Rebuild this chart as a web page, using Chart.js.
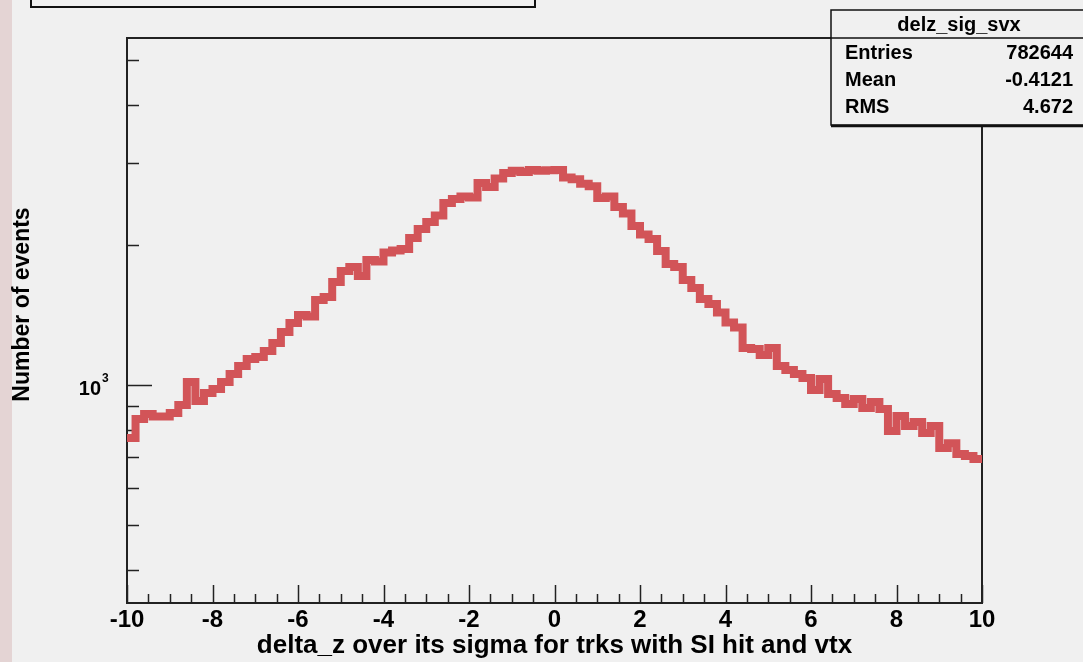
<!DOCTYPE html>
<html>
<head>
<meta charset="utf-8">
<script src="https://cdn.jsdelivr.net/npm/chart.js@4.4.0/dist/chart.umd.min.js"></script>
<style>
  html, body { margin: 0; padding: 0; background: #f0f0f0; }
  #wrap { width: 1083px; height: 662px; }
</style>
</head>
<body>
<div id="wrap"><canvas id="chart" width="1083" height="662"></canvas></div>
<script>
// histogram delz_sig_svx, 100 bins from -10 to 10
const histName = 'delz_sig_svx';
const xMin = -10;
const xMax = 10;
const binWidth = 0.2;
const counts = [
  769, 845, 866, 856, 856, 871, 906, 1015, 924, 961,
  980, 1015, 1056, 1099, 1137, 1149, 1183, 1231, 1300, 1359,
  1414, 1404, 1523, 1546, 1666, 1759, 1794, 1716, 1857, 1843,
  1927, 1947, 1961, 2071, 2165, 2242, 2315, 2463, 2512, 2543,
  2531, 2719, 2666, 2780, 2857, 2886, 2871, 2900, 2886, 2893,
  2900, 2794, 2767, 2706, 2673, 2524, 2543, 2414, 2338, 2198,
  2107, 2061, 1942, 1821, 1794, 1682, 1617, 1531, 1493, 1432,
  1363, 1330, 1201, 1195, 1160, 1201, 1099, 1077, 1056, 1035,
  976, 1030, 956, 938, 910, 933, 892, 919, 888, 796,
  858, 816, 833, 789, 816, 732, 750, 711, 704, 693
];
const yMin = 340;
const yMax = 5570;
const yMajorTicks = [1000];
const yMinorTicks = [400, 500, 600, 700, 800, 900, 2000, 3000, 4000, 5000];
const xMajorStep = 2;
const xMinorStep = 0.5;
const statLabels = ['Entries', 'Mean', 'RMS'];
const statValues = ['782644', '-0.4121', '4.672'];
const xTitle = 'delta_z over its sigma for trks with SI hit and vtx';
const yTitle = 'Number of events';

const FONT = "'Liberation Sans', Arial, sans-serif";
const BG = '#f0f0f0';

// left bin edges, plus the closing edge
let points = counts.map((c, i) => ({ x: xMin + i * binWidth, y: c }));
points.push({ x: xMax, y: counts[counts.length - 1] });

const rootStyle = {
  id: 'rootStyle',
  beforeDraw(chart) {
    const ctx = chart.ctx;
    ctx.save();
    ctx.fillStyle = BG;
    ctx.fillRect(0, 0, chart.width, chart.height);
    ctx.fillStyle = '#e4d4d4';
    ctx.fillRect(0, 0, 12, chart.height);
    // cut-off title box at the top
    ctx.strokeStyle = '#111';
    ctx.lineWidth = 2;
    ctx.strokeRect(31, -20, 504, 27);
    ctx.restore();
  },
  beforeDatasetsDraw(chart) {
    const ctx = chart.ctx;
    const a = chart.chartArea;
    const xs = chart.scales.x;
    const ys = chart.scales.y;
    ctx.save();
    ctx.strokeStyle = '#222';
    ctx.lineWidth = 2;
    ctx.strokeRect(a.left, a.top, a.right - a.left, a.bottom - a.top);

    ctx.lineWidth = 1.5;
    ctx.beginPath();
    yMinorTicks.forEach(v => {
      const y = Math.round(ys.getPixelForValue(v)) + 0.5;
      ctx.moveTo(a.left, y);
      ctx.lineTo(a.left + 12, y);
    });
    yMajorTicks.forEach(v => {
      const y = Math.round(ys.getPixelForValue(v)) + 0.5;
      ctx.moveTo(a.left, y);
      ctx.lineTo(a.left + 25, y);
    });
    for (let t = xMin; t <= xMax + 1e-9; t += xMinorStep) {
      const x = Math.round(xs.getPixelForValue(t)) + 0.5;
      const major = Math.abs(t / xMajorStep - Math.round(t / xMajorStep)) < 1e-6;
      ctx.moveTo(x, a.bottom);
      ctx.lineTo(x, a.bottom - (major ? 18 : 9));
    }
    ctx.stroke();

    // 10^3 label
    ctx.fillStyle = '#000';
    ctx.textBaseline = 'middle';
    ctx.textAlign = 'right';
    yMajorTicks.forEach(v => {
      const y = ys.getPixelForValue(v);
      ctx.font = 'bold 20px ' + FONT;
      ctx.fillText('10', 101, y + 4);
      ctx.font = 'bold 12px ' + FONT;
      ctx.textAlign = 'left';
      ctx.fillText(String(Math.round(Math.log10(v))), 102, y - 6);
    });

    // y title
    ctx.translate(23, (a.top + a.bottom) / 2 - 16);
    ctx.rotate(-Math.PI / 2);
    ctx.textAlign = 'center';
    ctx.font = 'bold 23px ' + FONT;
    ctx.fillText(yTitle, 0, 0);
    ctx.restore();
  },
  afterDraw(chart) {
    const ctx = chart.ctx;
    ctx.save();
    const bx = 831, by = 10, bw = 260, bh = 115;
    ctx.fillStyle = BG;
    ctx.fillRect(bx, by, bw, bh);
    ctx.strokeStyle = '#111';
    ctx.lineWidth = 1.5;
    ctx.strokeRect(bx, by, bw, bh);
    ctx.lineWidth = 2.5;
    ctx.beginPath();
    ctx.moveTo(bx, by + bh + 1);
    ctx.lineTo(bx + bw, by + bh + 1);
    ctx.stroke();
    ctx.lineWidth = 1.5;
    ctx.beginPath();
    ctx.moveTo(bx, 38);
    ctx.lineTo(bx + bw, 38);
    ctx.stroke();

    ctx.fillStyle = '#000';
    ctx.textBaseline = 'middle';
    ctx.font = 'bold 20px ' + FONT;
    ctx.textAlign = 'center';
    ctx.fillText(histName, 959, 25);
    const rowY = [53, 80, 107];
    statLabels.forEach((lab, i) => {
      ctx.textAlign = 'left';
      ctx.fillText(lab, 845, rowY[i]);
      ctx.textAlign = 'right';
      ctx.fillText(statValues[i], 1073, rowY[i]);
    });
    ctx.restore();
  }
};

new Chart(document.getElementById('chart').getContext('2d'), {
  type: 'line',
  data: {
    datasets: [{
      label: histName,
      data: points,
      borderColor: '#d25458',
      borderWidth: 8,
      borderJoinStyle: 'miter',
      borderCapStyle: 'butt',
      stepped: 'before',
      pointRadius: 0,
      fill: false,
      tension: 0
    }]
  },
  options: {
    responsive: false,
    animation: false,
    layout: { padding: { top: 38, right: 101, left: 0, bottom: 0 } },
    plugins: {
      legend: { display: false },
      tooltip: { enabled: false }
    },
    scales: {
      x: {
        type: 'linear',
        min: xMin,
        max: xMax,
        grid: { display: false, drawTicks: false },
        border: { display: false },
        ticks: {
          stepSize: xMajorStep,
          autoSkip: false,
          maxRotation: 0,
          padding: 3,
          color: '#000',
          font: { family: FONT, size: 24, weight: 'bold' }
        },
        title: {
          display: true,
          text: xTitle,
          color: '#000',
          padding: { top: 0, bottom: 1 },
          font: { family: FONT, size: 26, weight: 'bold' }
        },
        afterFit: s => { s.height = 59; }
      },
      y: {
        type: 'logarithmic',
        min: yMin,
        max: yMax,
        grid: { display: false, drawTicks: false },
        border: { display: false },
        ticks: { display: false },
        afterFit: s => { s.width = 127; }
      }
    }
  },
  plugins: [rootStyle]
});
</script>
</body>
</html>
